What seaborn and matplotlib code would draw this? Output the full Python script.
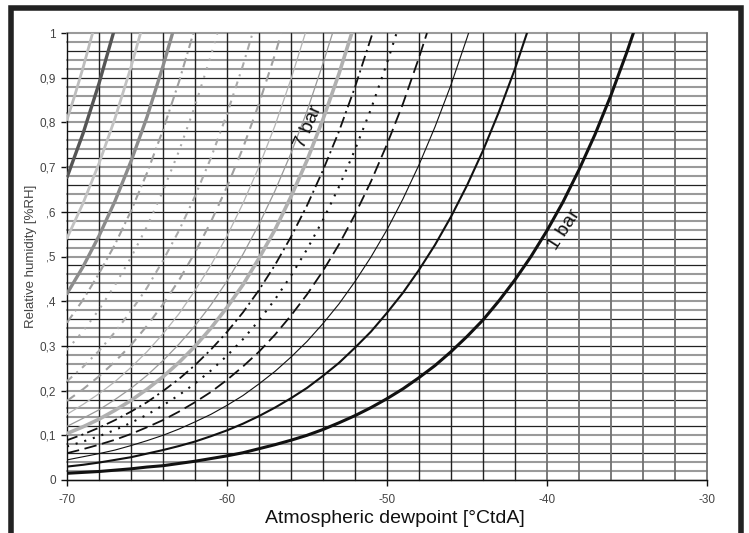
import numpy as np
import pandas as pd
import seaborn as sns
import matplotlib.pyplot as plt
from matplotlib.patches import Rectangle

# Curves: atmospheric dewpoint [degC] -> relative humidity,
# read at every whole degree plus the point where each curve leaves the top.
# p01 is the curve labelled "1 bar", p07 the one labelled "7 bar"
p01_x = list(range(-70, -34)) + [-34.6]
p01_rh = [0.015, 0.017, 0.019, 0.022, 0.025, 0.029, 0.032, 0.037, 0.042, 0.048,
          0.054, 0.061, 0.070, 0.079, 0.089, 0.100, 0.113, 0.128, 0.144, 0.162,
          0.182, 0.204, 0.229, 0.256, 0.287, 0.321, 0.358, 0.401, 0.448, 0.500,
          0.558, 0.622, 0.694, 0.773, 0.861, 0.958, 1.0]

p02_x = list(range(-70, -41)) + [-41.25]
p02_rh = [0.030, 0.034, 0.039, 0.045, 0.051, 0.059, 0.067, 0.076, 0.086, 0.098,
          0.111, 0.126, 0.143, 0.162, 0.183, 0.206, 0.233, 0.262, 0.296, 0.332,
          0.374, 0.419, 0.470, 0.526, 0.589, 0.659, 0.737, 0.824, 0.920, 1.0]

p03_x = list(range(-70, -44)) + [-44.9]
p03_rh = [0.045, 0.052, 0.059, 0.067, 0.077, 0.088, 0.100, 0.114, 0.130, 0.147,
          0.167, 0.189, 0.215, 0.243, 0.275, 0.310, 0.350, 0.394, 0.444, 0.499,
          0.560, 0.629, 0.705, 0.790, 0.884, 0.989, 1.0]

p04_x = list(range(-70, -47)) + [-47.5]
p04_rh = [0.060, 0.069, 0.079, 0.090, 0.103, 0.118, 0.134, 0.153, 0.174, 0.197,
          0.224, 0.254, 0.287, 0.325, 0.368, 0.415, 0.468, 0.527, 0.594, 0.668,
          0.751, 0.842, 0.945, 1.0]

p05_x = list(range(-70, -49)) + [-49.4]
p05_rh = [0.075, 0.086, 0.098, 0.112, 0.128, 0.146, 0.167, 0.190, 0.216, 0.245,
          0.278, 0.315, 0.357, 0.404, 0.457, 0.516, 0.582, 0.656, 0.739, 0.830,
          0.933, 1.0]

p06_x = list(range(-70, -51)) + [-50.9]
p06_rh = [0.089, 0.102, 0.117, 0.134, 0.153, 0.174, 0.199, 0.226, 0.257, 0.292,
          0.331, 0.375, 0.425, 0.481, 0.544, 0.614, 0.693, 0.780, 0.879, 1.0]

p07_x = list(range(-70, -52)) + [-52.2]
p07_rh = [0.104, 0.119, 0.136, 0.156, 0.178, 0.203, 0.231, 0.263, 0.299, 0.340,
          0.386, 0.437, 0.496, 0.560, 0.634, 0.715, 0.807, 0.909, 1.0]

p08_x = list(range(-70, -53)) + [-53.4]
p08_rh = [0.120, 0.138, 0.157, 0.180, 0.205, 0.234, 0.267, 0.304, 0.345, 0.392,
          0.445, 0.505, 0.572, 0.647, 0.731, 0.825, 0.932, 1.0]

p09_x = list(range(-70, -55)) + [-55.1]
p09_rh = [0.147, 0.169, 0.193, 0.220, 0.252, 0.287, 0.327, 0.372, 0.424, 0.481,
          0.546, 0.619, 0.701, 0.793, 0.897, 1.0]

p10_x = list(range(-70, -56)) + [-56.6]
p10_rh = [0.177, 0.203, 0.232, 0.265, 0.302, 0.345, 0.393, 0.447, 0.509, 0.578,
          0.656, 0.743, 0.842, 0.952, 1.0]

p11_x = list(range(-70, -58)) + [-58.4]
p11_rh = [0.221, 0.253, 0.289, 0.331, 0.378, 0.430, 0.491, 0.558, 0.635, 0.721,
          0.819, 0.928, 1.0]

p12_x = list(range(-70, -60)) + [-60.6]
p12_rh = [0.291, 0.333, 0.381, 0.436, 0.498, 0.567, 0.647, 0.736, 0.837, 0.950, 1.0]

p13_x = list(range(-70, -62)) + [-62.1]
p13_rh = [0.352, 0.403, 0.462, 0.527, 0.602, 0.687, 0.783, 0.891, 1.0]

p14_x = list(range(-70, -63)) + [-63.4]
p14_rh = [0.417, 0.477, 0.546, 0.624, 0.713, 0.812, 0.926, 1.0]

p15_x = list(range(-70, -65)) + [-65.4]
p15_rh = [0.541, 0.619, 0.708, 0.809, 0.924, 1.0]

p16_x = [-70, -69, -68, -67.1]
p16_rh = [0.677, 0.775, 0.887, 1.0]

p17_x = [-70, -69.5, -69, -68.4]
p17_rh = [0.806, 0.862, 0.922, 1.0]

x_ticks = [-70, -60, -50, -40, -30]
x_tick_labels = ['-70', '-60', '-50', '-40', '-30']
y_ticks = [0, 0.1, 0.2, 0.3, 0.4, 0.5, 0.6, 0.7, 0.8, 0.9, 1.0]
y_tick_labels = ['0', '0,1', '0,2', '0,3', '0,4', '0,5', '0,6', '0,7', '0,8', '0,9', '1']

curves = [
    (p01_x, p01_rh, dict(color='#111111', linewidth=2.2, linestyle='-')),
    (p02_x, p02_rh, dict(color='#111111', linewidth=1.5, linestyle='-')),
    (p03_x, p03_rh, dict(color='#111111', linewidth=0.8, linestyle='-')),
    (p04_x, p04_rh, dict(color='#111111', linewidth=1.3, linestyle=(0, (9, 4)))),
    (p05_x, p05_rh, dict(color='#111111', linewidth=1.5, linestyle=(0, (1.5, 5)))),
    (p06_x, p06_rh, dict(color='#111111', linewidth=1.3, linestyle=(0, (8, 3, 1.5, 3)))),
    (p07_x, p07_rh, dict(color='#b0b0b0', linewidth=2.6, linestyle='-')),
    (p08_x, p08_rh, dict(color='#9a9a9a', linewidth=0.9, linestyle='-')),
    (p09_x, p09_rh, dict(color='#b5b5b5', linewidth=0.9, linestyle='-')),
    (p10_x, p10_rh, dict(color='#a0a0a0', linewidth=1.5, linestyle=(0, (7, 5)))),
    (p11_x, p11_rh, dict(color='#aaaaaa', linewidth=1.5, linestyle=(0, (5, 4, 1.5, 4)))),
    (p12_x, p12_rh, dict(color='#aaaaaa', linewidth=1.5, linestyle=(0, (1.5, 5)))),
    (p13_x, p13_rh, dict(color='#a0a0a0', linewidth=1.5, linestyle=(0, (7, 3, 1.5, 3)))),
    (p14_x, p14_rh, dict(color='#8c8c8c', linewidth=2.4, linestyle='-')),
    (p15_x, p15_rh, dict(color='#c2c2c2', linewidth=2.0, linestyle='-')),
    (p16_x, p16_rh, dict(color='#555555', linewidth=2.4, linestyle='-')),
    (p17_x, p17_rh, dict(color='#bdbdbd', linewidth=2.0, linestyle='-')),
]

sns.set_style("white")
plt.rcParams['font.family'] = ['Liberation Sans', 'DejaVu Sans']
plt.rcParams['lines.scale_dashes'] = False

fig = plt.figure(figsize=(7.49, 5.33), dpi=100)
ax = fig.add_axes([67 / 749, 53 / 533, 640 / 749, 447 / 533])

# grid: horizontal every 0.02, vertical every 2 degrees
for i, yv in enumerate(np.arange(0, 1.0001, 0.02)):
    if i % 3 == 0:
        ax.axhline(yv, color='#222222', lw=0.9, zorder=1, clip_on=False)
    else:
        ax.axhline(yv, color='#9a9a9a', lw=1.5, zorder=1, clip_on=False)
for xv in range(-68, -29, 2):
    if xv <= -42:
        ax.axvline(xv, color='#222222', lw=1.0, zorder=1, clip_on=False)
    else:
        ax.axvline(xv, color='#707070', lw=1.3, zorder=1, clip_on=False)

for xs, ys, style in curves:
    sns.lineplot(x=xs, y=ys, ax=ax, sort=False, estimator=None, zorder=3, **style)

ax.text(-54.9, 0.79, '7 bar', rotation=67, ha='center', va='center', fontsize=14, color='#111111', zorder=4)
ax.text(-38.9, 0.56, '1 bar', rotation=57, ha='center', va='center', fontsize=14, color='#111111', zorder=4)

ax.set_xlim(-70, -30)
ax.set_ylim(0, 1)
ax.set_xticks(x_ticks)
ax.set_xticklabels(x_tick_labels)
ax.set_yticks(y_ticks)
ax.set_yticklabels(y_tick_labels)
ax.tick_params(axis='both', which='major', direction='out', length=4, width=1,
               color='#111111', labelsize=8.5, labelcolor='#444444')
ax.tick_params(axis='x', pad=6)
ax.tick_params(axis='y', pad=4)
ax.tick_params(bottom=True, left=True)

for side in ['top', 'right']:
    ax.spines[side].set_visible(False)
for side in ['left', 'bottom']:
    ax.spines[side].set_color('#111111')
    ax.spines[side].set_linewidth(1.0)

ax.set_xlabel('Atmospheric dewpoint [°CtdA]', fontsize=14, color='#111111')
ax.xaxis.set_label_coords(0.5 + 8 / 640, -0.066)
ax.set_ylabel('')

fig.text(31 / 749, 1 - 256 / 533, 'Relative humidity [%RH]', rotation=90, ha='center', va='center',
         fontsize=9.5, color='#444444',
         bbox=dict(boxstyle='square,pad=0.75', facecolor='white', edgecolor='none'))

# thick frame around the whole picture
fig.patches.append(Rectangle((11 / 749, -0.05), (740.5 - 11) / 749, 1.05 - 8.5 / 533,
                             transform=fig.transFigure, fill=False, edgecolor='#222222',
                             linewidth=4, clip_on=False))

fig.savefig('out.png', dpi=100)
